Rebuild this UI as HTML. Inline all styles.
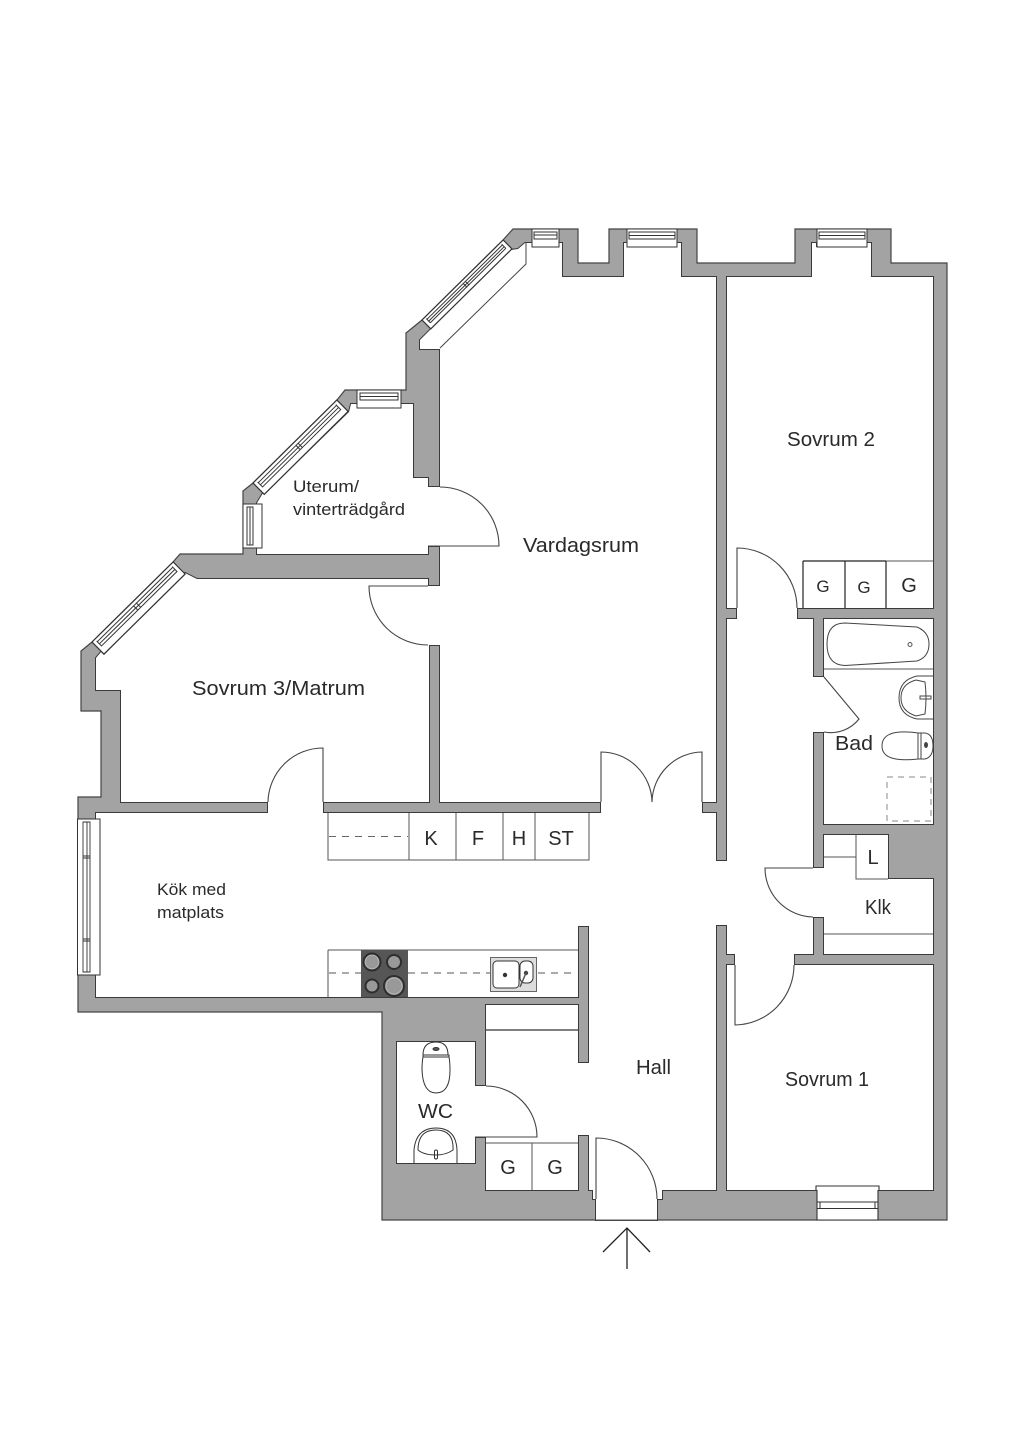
<!DOCTYPE html>
<html lang="sv">
<head>
<meta charset="utf-8">
<title>Planritning</title>
<style>
html,body{margin:0;padding:0;background:#fff}
svg{display:block}
text{font-family:"Liberation Sans",sans-serif;fill:#2a2a2a}
</style>
</head>
<body>
<svg xmlns="http://www.w3.org/2000/svg" width="1024" height="1448" viewBox="0 0 1024 1448">
<rect width="1024" height="1448" fill="#fff"/>

<!-- silhouette -->
<path d="M947,263 V1220 H382 V1012 H78 V797 H101 V711 H81 V651 L92,642 L173,562 L180,554 H243 V491 L253,483 L337,400 L345,390 H406 V333 L422,320 L503,240 L513,229 H578 V263 H609 V229 H697 V263 H795 V229 H891 V263 Z" fill="#a3a3a3" stroke="#444" stroke-width="1.2" stroke-linejoin="miter"/>

<defs>
<path id="rooms" d="
M440,348 L526,264 V243 H532 V247 H559 V243 H562 V277 H624 V243 H627 V247 H677 V243 H681 V277 H716 V802 H702 V813 H601 V802 H440 V645 H428 V586 H440 V546 H428 V487 H440 Z
M430,330 L511,250 L518,249 L525,243 H527 V264 L440,349 H420 V340 Z
M96,813 H268 V802 H323 V813 H716 V861 H727 V619 H737 V608 H797 V619 H813 V677 H824 V732 H813 V868 H824 V917 H813 V954 H794 V965 H735 V954 H727 V925 H716 V1190 H662 V1199 H657 V1220 H596 V1199 H593 V1190 H589 V1135 H578 V1190 H486 V1137 H475 V1086 H486 V1005 H578 V1063 H589 V926 H578 V997 H96 Z
M197,579 H428 V586 H440 V645 H429 V802 H121 V690 H96 V658 L101,652 L104,655 L185,573 Z
M257,554 V548 H262 V504 H257 V503 L263,493 L264,495 L349,412 L351,404 H357 V408 H401 V404 H413 V478 H428 V487 H440 V546 H428 V554 Z
M727,277 H812 V243 H816 V247 H867 V243 H871 V277 H933 V608 H797 V619 H737 V608 H727 Z
M824,619 H933 V824 H824 V732 H813 V677 H824 Z
M824,835 H888 V879 H933 V954 H824 V917 H813 V868 H824 Z
M727,965 H735 V954 H794 V965 H933 V1190 H727 Z
M397,1042 H475 V1086 H486 V1137 H475 V1163 H397 Z"/>
</defs>
<use href="#rooms" fill="#fff" stroke="#3a3a3a" stroke-width="2" stroke-linejoin="miter"/>
<use href="#rooms" fill="#fff"/>

<!-- alcove line -->
<path d="M526,243 V264 L440,348" fill="none" stroke="#444" stroke-width="1"/>

<!-- diagonal windows -->
<g fill="none" stroke="#333" stroke-width="1">
  <g transform="translate(422,320) rotate(-44.6)">
    <rect x="0" y="0" width="114" height="12.5" fill="#fff" stroke-width="1.2"/>
    <path d="M4,3 H110 M4,5.5 H110 M4,7.800 H110 M4,2 V8 M110,2 V8 M55,2.500 V8.500 M58,2.500 V8.500" stroke-width="1"/>
  </g>
  <g transform="translate(253,483) rotate(-44.7)">
    <rect x="0" y="0" width="118" height="16" fill="#fff" stroke-width="1.2"/>
    <path d="M4,3.500 H114 M4,6.500 H114 M4,9.500 H114 M4,2.500 V10 M114,2.500 V10 M57,3 V10 M60,3 V10" stroke-width="1"/>
  </g>
  <g transform="translate(92,642) rotate(-44.6)">
    <rect x="0" y="0" width="114" height="17" fill="#fff" stroke-width="1.2"/>
    <path d="M4,3.500 H110 M4,6.500 H110 M4,9.500 H110 M4,2.500 V10 M110,2.500 V10 M55,3 V10 M59,3 V10" stroke-width="1"/>
  </g>
</g>

<!-- straight windows -->
<g fill="#fff" stroke="#333" stroke-width="1">
  <!-- uterum top -->
  <rect x="357" y="390" width="44" height="18"/>
  <path d="M360,393 H398 V400 H360 Z M360,396.500 H398" fill="none"/>
  <!-- uterum left -->
  <rect x="243" y="504" width="19" height="44"/>
  <path d="M247,507 V545 H253 V507 Z M250,507 V545" fill="none"/>
  <!-- top windows -->
  <rect x="532" y="229" width="27" height="18"/>
  <path d="M534,232 H557 V239 H534 Z M534,235 H557" fill="none"/>
  <rect x="627" y="229" width="50" height="18"/>
  <path d="M629,232 H675 V239 H629 Z M629,235.500 H675" fill="none"/>
  <rect x="817" y="229" width="50" height="18"/>
  <path d="M819,232 H865 V239 H819 Z M819,235.500 H865" fill="none"/>
  <!-- kitchen window -->
  <rect x="77.500" y="819" width="22.500" height="156"/>
  <path d="M83,822 V972 H90 V822 Z M87,822 V972 M83,856 H90 M83,858 H90 M83,939 H90 M83,941 H90" fill="none" stroke-width=".9"/>
  <!-- sovrum 1 window -->
  <path d="M816,1190 V1186 H879 V1190 M817,1190 V1220 H878 V1190" fill="#fff" stroke-width="1.1"/>
  <path d="M817,1202 H878 M817,1208.500 H878 M820,1202 V1208.500 M875,1202 V1208.500" fill="none" stroke-width="1"/>
</g>

<!-- doors -->
<g fill="none" stroke="#444" stroke-width="1.1">
  <path d="M440,487 A59,59 0 0 1 499,546 H428"/>
  <path d="M428,586 H369 A59,59 0 0 0 428,645"/>
  <path d="M268,802 A55,55 0 0 1 323,748 V802"/>
  <path d="M601,802 V752 A51,51 0 0 1 652,802 A51,51 0 0 1 702,752 V802"/>
  <path d="M737,608 V548 A60,60 0 0 1 797,608"/>
  <path d="M824,677 L859,719 A36,36 0 0 1 824,732"/>
  <path d="M813,868 H765 A49,49 0 0 0 813,917"/>
  <path d="M735,965 V1025 A60,60 0 0 0 794,965"/>
  <path d="M486,1086 A51,51 0 0 1 537,1137 H475"/>
  <path d="M596,1199 V1138 A61,61 0 0 1 657,1199"/>
  <path d="M596,1220 H657" stroke="#555"/>
</g>

<!-- entrance arrow -->
<path d="M627,1269 V1228 M603,1252 L627,1228 L650,1252" fill="none" stroke="#222" stroke-width="1.3"/>

<!-- storage & kitchen fittings -->
<g fill="none" stroke="#555" stroke-width="1">
  <path d="M328,813 V860 H589 V813 M409,813 V860 M456,813 V860 M503,813 V860 M535,813 V860"/>
  <path d="M328,950 H578 M328,950 V997"/>
  <path d="M886,561 H933 M886,561 V608"/>
  <path d="M824,669 H933"/>
  <path d="M824,857 H856 M856,835 V879 H888"/>
  <path d="M824,934 H933"/>
  <path d="M486,1143 H578 M532,1143 V1190"/>
</g>
<path d="M803,561 H886 M803,561 V608 M845,561 V608 M886,561 V608" fill="none" stroke="#222" stroke-width="1.2"/>
<path d="M486,1030 H578" fill="none" stroke="#333" stroke-width="1.3"/>

<!-- counter dashes -->
<path d="M329,836.500 H408" stroke="#666" stroke-width="1" stroke-dasharray="7 6" fill="none"/>
<path d="M329,973 H361 M408,973 H576" stroke="#555" stroke-width="1" stroke-dasharray="7 6" fill="none"/>

<!-- hob -->
<rect x="361" y="950" width="47" height="47" fill="#565656"/>
<g stroke="#2e2e2e" stroke-width="2" fill="#999">
  <circle cx="372" cy="962" r="8.500"/>
  <circle cx="394" cy="962" r="7"/>
  <circle cx="372" cy="986" r="6.500"/>
  <circle cx="394" cy="986" r="10"/>
</g>
<g fill="none" stroke="#bbb" stroke-width=".7">
  <circle cx="372" cy="962" r="6.800"/>
  <circle cx="394" cy="986" r="8"/>
</g>

<!-- sink -->
<rect x="490.500" y="957.500" width="46" height="34" fill="#ddd" stroke="#666" stroke-width="1"/>
<rect x="493" y="961" width="26" height="27" rx="4" fill="#fff" stroke="#333" stroke-width="1"/>
<rect x="520" y="961" width="13" height="22" rx="5" fill="#fff" stroke="#333" stroke-width="1"/>
<circle cx="505" cy="975" r="2.200" fill="#333"/>
<circle cx="526" cy="973" r="2.200" fill="#444"/>
<path d="M526,973 L520,987" stroke="#555" stroke-width="1.5" fill="none"/>

<!-- bath -->
<path d="M845,623 L917,627 Q929,632 929,644 Q929,657 917,661 L845,665.500 Q827,665 827,644 Q827,623 845,623 Z" fill="#fff" stroke="#444" stroke-width="1"/>
<circle cx="910" cy="644.500" r="2" fill="none" stroke="#555" stroke-width="1"/>

<!-- bath sink -->
<g fill="none" stroke="#444" stroke-width="1">
  <path d="M933,676 H917 Q899,680 899,698 Q899,715 917,719 H933"/>
  <path d="M925,682 L916,680 Q901,684 901,698 Q901,711 916,716 L925,714 Q927,698 925,682 Z"/>
  <path d="M920,696 H931 V699 H920 Z"/>
  <!-- bath toilet -->
  <path d="M918,733 Q882,728 882,746 Q882,763 918,759 Z"/>
  <path d="M918,733 H925 Q933,734 933,746 Q933,757 925,759 H918"/>
  <path d="M921,733 V759"/>
  <ellipse cx="926" cy="745" rx="1.500" ry="2.500" fill="#444"/>
</g>

<!-- shower -->
<rect x="887" y="777" width="44" height="44" fill="none" stroke="#888" stroke-width="1" stroke-dasharray="6 5"/>

<!-- WC fittings -->
<g fill="none" stroke="#333" stroke-width="1">
  <path d="M423,1055 Q423,1042 436,1042 Q448,1042 448,1055"/>
  <path d="M423,1055 H449 V1057 H423 Z"/>
  <path d="M423,1057 Q422,1062 422,1070 Q423,1093 436,1093 Q450,1093 450,1070 Q450,1062 449,1057"/>
  <ellipse cx="436" cy="1049" rx="3" ry="1.500" fill="#555"/>
  <path d="M414,1163 V1150 Q416,1128 436,1128 Q456,1128 457,1150 V1163"/>
  <path d="M418,1150 Q418,1130 436,1130 Q454,1130 453,1150 Q446,1155 436,1155 Q424,1155 418,1150 Z"/>
  <rect x="434.500" y="1150" width="3" height="9" rx="1.500"/>
</g>

<!-- labels -->
<g>
  <text x="523" y="552" font-size="20" textLength="116" lengthAdjust="spacingAndGlyphs">Vardagsrum</text>
  <text x="787" y="446" font-size="20" textLength="88" lengthAdjust="spacingAndGlyphs">Sovrum 2</text>
  <text x="192" y="695" font-size="20" textLength="173" lengthAdjust="spacingAndGlyphs">Sovrum 3/Matrum</text>
  <text x="785" y="1086" font-size="20" textLength="84" lengthAdjust="spacingAndGlyphs">Sovrum 1</text>
  <text x="636" y="1074" font-size="20" textLength="35" lengthAdjust="spacingAndGlyphs">Hall</text>
  <text x="835" y="750" font-size="20" textLength="38" lengthAdjust="spacingAndGlyphs">Bad</text>
  <text x="865" y="914" font-size="20" textLength="26" lengthAdjust="spacingAndGlyphs">Klk</text>
  <text x="418" y="1118" font-size="20" textLength="35" lengthAdjust="spacingAndGlyphs">WC</text>
  <text x="293" y="492" font-size="17" textLength="66" lengthAdjust="spacingAndGlyphs">Uterum/</text>
  <text x="293" y="515" font-size="17" textLength="112" lengthAdjust="spacingAndGlyphs">vinterträdgård</text>
  <text x="157" y="895" font-size="16.500" textLength="69" lengthAdjust="spacingAndGlyphs">Kök med</text>
  <text x="157" y="918" font-size="16.500" textLength="67" lengthAdjust="spacingAndGlyphs">matplats</text>
  <text x="431" y="845" font-size="20" text-anchor="middle">K</text>
  <text x="478" y="845" font-size="20" text-anchor="middle">F</text>
  <text x="519" y="845" font-size="20" text-anchor="middle">H</text>
  <text x="561" y="845" font-size="20" text-anchor="middle">ST</text>
  <text x="823" y="592" font-size="17" text-anchor="middle">G</text>
  <text x="864" y="593" font-size="17" text-anchor="middle">G</text>
  <text x="909" y="592" font-size="20" text-anchor="middle">G</text>
  <text x="508" y="1174" font-size="20" text-anchor="middle">G</text>
  <text x="555" y="1174" font-size="20" text-anchor="middle">G</text>
  <text x="873" y="864" font-size="20" text-anchor="middle">L</text>
</g>
</svg>
</body>
</html>
